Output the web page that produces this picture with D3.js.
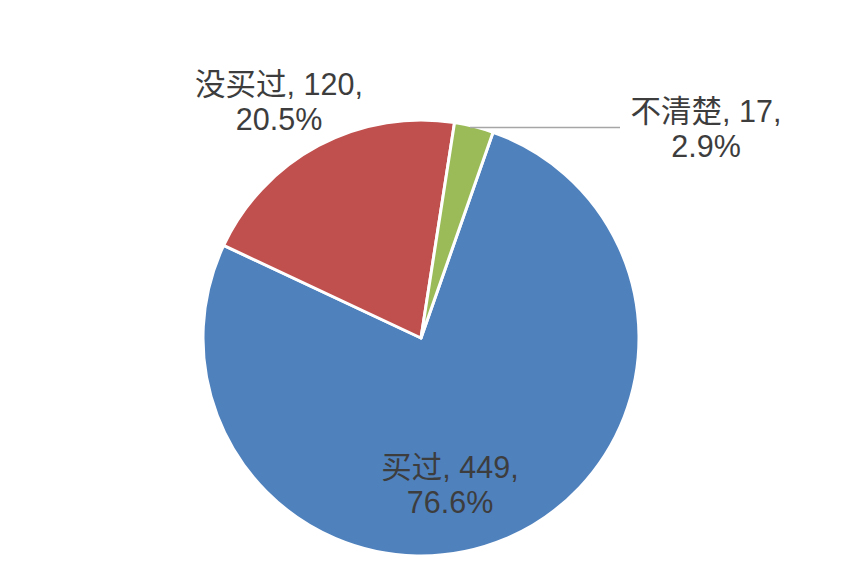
<!DOCTYPE html>
<html>
<head>
  <meta charset="utf-8">
  <title>买过 / 没买过 / 不清楚</title>
  <style>
    body {margin: 0; background: #fff}
    .lbl {font-family: "Liberation Sans", Arial, "Noto Sans CJK SC", sans-serif; font-size: 30.5px; fill: #3d3d3d}
  </style>
</head>
<body>
  <script src="https://cdn.jsdelivr.net/npm/d3@7/dist/d3.min.js"></script>
  <script>
    // data
    var categories = ["买过", "没买过", "不清楚"];
    var counts = [449, 120, 17];
    var percents = ["76.6%", "20.5%", "2.9%"];
    var colors = ["#4f81bd", "#c0504d", "#9bbb59"];

    // layout (label anchor offsets from pie centre, px)
    var width = 862, height = 588;
    var cx = 421, cy = 338, radius = 218;
    var labelOffsets = [[29, 140], [-142, -243], [285, -216]];
    var lineGap = 35;

    var rows = categories.map(function (c, i) {
      return {name: c, value: counts[i], pct: percents[i], color: colors[i], off: labelOffsets[i]};
    });

    var svg = d3.select("body").append("svg")
      .attr("width", width)
      .attr("height", height);

    var g = svg.append("g")
      .attr("transform", "translate(" + cx + "," + cy + ")");

    // first slice starts a little past 12 o'clock, like the original
    var start = 19.3 * Math.PI / 180;
    var pie = d3.pie().sort(null).value(function (d) { return d.value; })
      .startAngle(start).endAngle(start + 2 * Math.PI);

    var arc = d3.arc().innerRadius(0).outerRadius(radius);

    g.selectAll("path.slice").data(pie(rows)).enter().append("path")
      .attr("class", "slice")
      .attr("d", arc)
      .attr("fill", function (d) { return d.data.color; })
      .attr("stroke", "#fff")
      .attr("stroke-width", 3)
      .attr("stroke-linejoin", "round");

    // leader line for the small slice
    var small = pie(rows)[2];
    var mid = (small.startAngle + small.endAngle) / 2;
    var px = Math.sin(mid) * radius, py = -Math.cos(mid) * radius;
    g.append("line")
      .attr("x1", px - 4).attr("y1", py + 1)
      .attr("x2", small.data.off[0] - 86).attr("y2", py + 1)
      .attr("stroke", "#a6a6a6")
      .attr("stroke-width", 1.5);

    // data labels: "name, value," / "pct"
    var labels = g.selectAll("text.lbl").data(rows).enter().append("text")
      .attr("class", "lbl")
      .attr("text-anchor", "middle")
      .attr("transform", function (d) { return "translate(" + d.off[0] + "," + d.off[1] + ")"; });

    labels.append("tspan").attr("x", 0).attr("y", 0)
      .text(function (d) { return d.name + ", " + d.value + ","; });
    labels.append("tspan").attr("x", 0).attr("y", lineGap)
      .text(function (d) { return d.pct; });
  </script>
</body>
</html>
